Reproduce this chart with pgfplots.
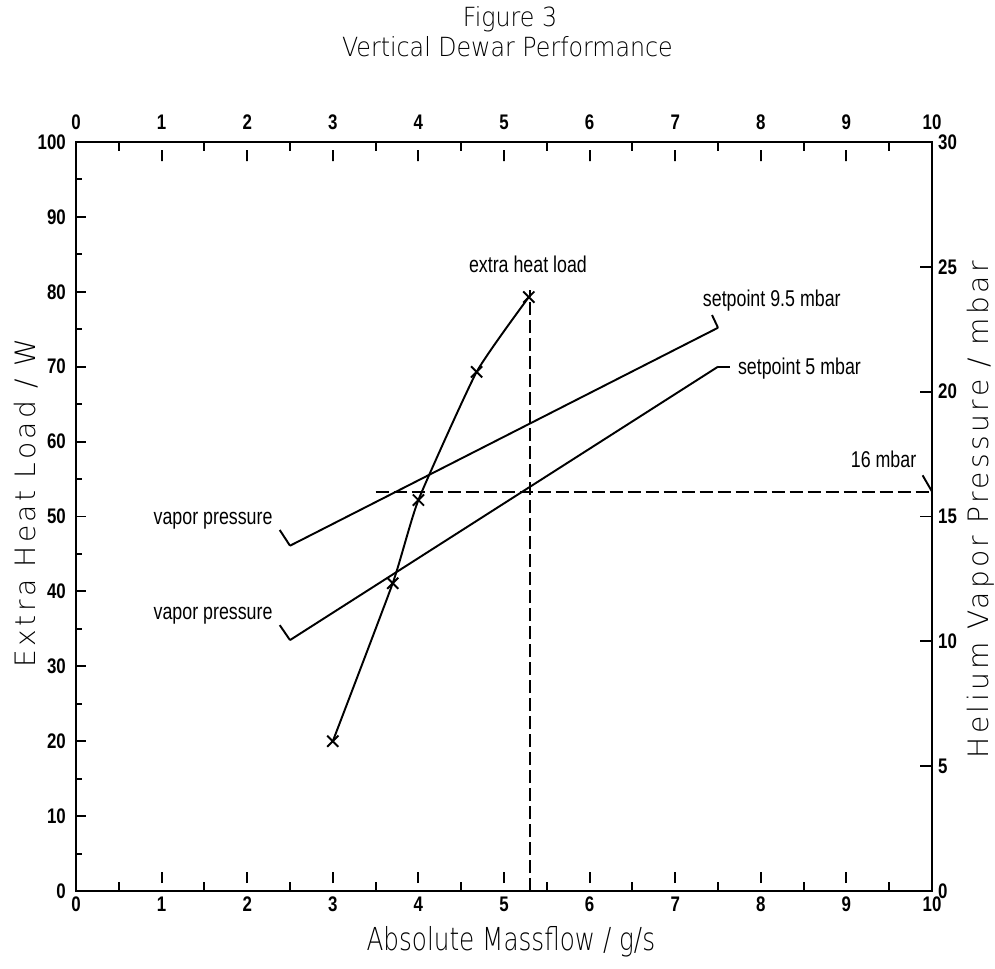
\documentclass[border=0pt]{standalone}
\usepackage{fontspec}
\setmainfont{Liberation Sans}
\newfontfamily\condfont{Liberation Sans}[FakeStretch=0.78]
\newfontfamily\tickfont{Liberation Sans}[FakeStretch=0.8]
\newfontfamily\botfont{DejaVu Sans ExtraLight}[FakeStretch=0.78]
\newfontfamily\titlefont{DejaVu Sans ExtraLight}[FakeStretch=0.9]
\newfontfamily\sidefont{DejaVu Sans ExtraLight}[LetterSpace=12]
\usepackage{pgfplots}
\pgfplotsset{compat=1.18}

\pgfplotsset{
  frame/.style={
    width=17.12cm, height=14.98cm, scale only axis,
    at={(0,0)}, anchor=south west,
    xmin=0, xmax=10,
    axis line style={line width=1.5pt},
    tick align=inside,
    every tick/.style={black, line width=1.1pt},
    ticklabel style={font=\tickfont\bfseries\fontsize{12}{12}\selectfont},
    /pgf/number format/assume math mode=true,
    clip=false,
  },
  xframe/.style={
    frame, ymin=0, ymax=100, ytick=\empty,
    xtick={0,...,10}, minor x tick num=1,
    major tick length=0.38cm, minor tick length=0.18cm,
    major tick style={dash pattern=on 0pt off 0.16cm on 0.22cm},
  },
}
\tikzset{ann/.style={font=\condfont\fontsize{13}{15}\selectfont, inner sep=0pt}}

\begin{document}
\begin{tikzpicture}
% left axis: heat load
\begin{axis}[frame, ymin=0, ymax=100, xtick=\empty,
  ytick={0,10,...,100}, minor y tick num=1,
  ytick pos=left, yticklabel pos=left,
  major tick length=0.2cm, minor tick length=0.13cm,
  yticklabel style={xshift=-0.08cm}]
\addplot[black, line width=1.1pt, smooth, tension=0.3, mark=x, mark size=4.5pt]
  coordinates {(3,20) (3.7,41.1) (4.0,52.2) (4.68,69.3) (5.29,79.3)};
\addplot[black, line width=1.1pt, dash pattern=on 0.26cm off 0.1cm]
  coordinates {(5.3,0) (5.3,80.3)};
\addplot[black, line width=1.1pt] coordinates {(2.5,46.1) (7.5,75.2)};
\addplot[black, line width=1.1pt] coordinates {(2.5,33.5) (7.5,70.0)};
\draw[line width=1.1pt] (axis cs:2.5,46.1) -- (axis cs:2.38,48.2);
\draw[line width=1.1pt] (axis cs:2.5,33.5) -- (axis cs:2.38,35.5);
\draw[line width=1.1pt] (axis cs:7.5,75.2) -- (axis cs:7.43,76.9);
\draw[line width=1.1pt] (axis cs:7.5,70.0) -- (axis cs:7.64,70.0);
\draw[line width=1.1pt] (axis cs:10,53.33) -- (axis cs:9.89,55.5);
\node[ann, anchor=base east] at (axis cs:2.30,48.9) {vapor pressure};
\node[ann, anchor=base east] at (axis cs:2.30,36.2) {vapor pressure};
\node[ann, anchor=base west] at (axis cs:7.32,78.0) {setpoint 9.5 mbar};
\node[ann, anchor=base west] at (axis cs:7.73,68.9) {setpoint 5 mbar};
\node[ann, anchor=base] at (axis cs:5.28,82.6) {extra heat load};
\node[ann, anchor=base east] at (axis cs:9.82,56.5) {16 mbar};
% titles and axis labels
\node[font=\titlefont\fontsize{15}{17}\selectfont] at (rel axis cs:0.507,1.164) {Figure 3};
\node[font=\titlefont\fontsize{15}{17}\selectfont] at (rel axis cs:0.504,1.127) {Vertical Dewar Performance};
\node[font=\botfont\fontsize{18}{20}\selectfont] at (rel axis cs:0.508,-0.068) {Absolute Massflow / g/s};
\node[font=\sidefont\fontsize{16}{18}\selectfont, rotate=90] at (rel axis cs:-0.058,0.518) {Extra Heat Load / W};
\node[font=\sidefont\fontsize{16}{18}\selectfont, rotate=90] at (rel axis cs:1.057,0.509) {Helium Vapor Pressure / mbar};
\end{axis}
% bottom x ticks
\begin{axis}[xframe, xtick pos=left, xticklabel pos=left]
\end{axis}
% top x ticks
\begin{axis}[xframe, xtick pos=right, xticklabel pos=right,
  xticklabel style={yshift=0.12cm}]
\end{axis}
% right axis: vapor pressure
\begin{axis}[frame, ymin=0, ymax=30, xtick=\empty,
  ytick={0,5,...,30}, ytick pos=right, yticklabel pos=right,
  major tick length=0.24cm]
\addplot[black, line width=1.1pt, dash pattern=on 0.26cm off 0.1cm]
  coordinates {(3.5,16) (10,16)};
\end{axis}
\pgfresetboundingbox
\path[use as bounding box] (-1.52cm,-1.54cm) rectangle (18.38cm,17.82cm);
\end{tikzpicture}
\end{document}
